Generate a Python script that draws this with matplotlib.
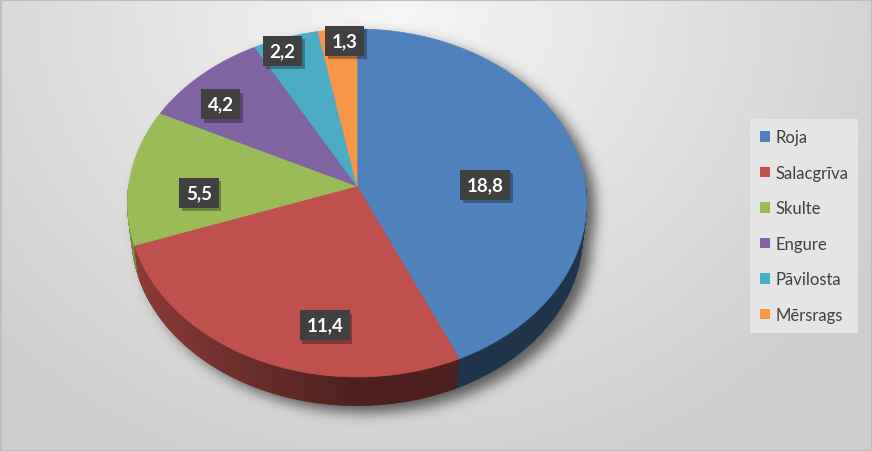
import matplotlib
matplotlib.use("Agg")
import matplotlib.pyplot as plt
import numpy as np
from matplotlib.patches import Patch, Rectangle
from matplotlib.collections import PolyCollection
import matplotlib.patheffects as pe

# data
places = ["Roja", "Salacgrīva", "Skulte", "Engure", "Pāvilosta", "Mērsrags"]
values = [18.8, 11.4, 5.5, 4.2, 2.2, 1.3]
value_labels = ["18,8", "11,4", "5,5", "4,2", "2,2", "1,3"]
colors = ["#4F81BD", "#C0504D", "#9BBB59", "#8064A2", "#4BACC6", "#F79646"]

# label placement inside the slices (radius fraction, angle nudge in degrees)
label_r = [0.56, 0.76, 0.69, 0.80, 0.92, 0.92]
label_nudge = [-11.4, 13.3, 6.6, 5.0, 2.6, -1.8]

plt.rcParams['font.family'] = ['Lato', 'DejaVu Sans']

W, H = 872, 452
# perspective of the tilted pie (pixels)
cx, cy = 357.0, 187.0
A, B, c = 228.4, 172.3, 0.0977
depth = 32.0
bottom_scale = 0.982


def proj(x, y, dz=0.0, s=1.0):
    d = 1 + c * y
    return cx + s * A * x / d, cy - s * B * y / d + dz


def shade(col, f):
    rgb = np.array(matplotlib.colors.to_rgb(col))
    return tuple(rgb * f)


fig = plt.figure(figsize=(W / 100, H / 100), dpi=100)
ax = fig.add_axes([0, 0, 1, 1])
ax.set_xlim(0, W)
ax.set_ylim(H, 0)
ax.axis('off')

# background gradient
gx, gy = np.meshgrid(np.arange(W) + 0.5, np.arange(H) + 0.5)
dist = np.sqrt(((gx - 400) / 560) ** 2 + ((gy - 10) / 500) ** 2)
bg = 0.965 - 0.16 * np.clip(dist, 0, 1)
ax.imshow(np.dstack([bg, bg, bg]), extent=(0, W, H, 0), zorder=0, interpolation='bilinear')
ax.add_patch(Rectangle((0.5, 0.5), W - 1, H - 1, fill=False, ec="#BDBDBD", lw=1.5, zorder=10))


def inside(dz, s):
    u = (gx - cx) / (A * s)
    v = (cy + dz - gy) / (B * s)
    yy = v / (1 - c * v)
    xx = u * (1 + c * yy)
    return (xx ** 2 + yy ** 2) <= 1


# soft shadow of the pie
mask = (inside(0, 1) | inside(depth, bottom_scale)).astype(float)
k = np.exp(-0.5 * (np.arange(-24, 25) / 6.5) ** 2)
k /= k.sum()
blur = np.apply_along_axis(lambda r: np.convolve(r, k, mode='same'), 1, mask)
blur = np.apply_along_axis(lambda r: np.convolve(r, k, mode='same'), 0, blur)
shadow = np.zeros((H, W, 4))
shadow[..., 3] = 0.58 * blur
shadow = np.roll(np.roll(shadow, 7, axis=0), 9, axis=1)
ax.imshow(shadow, extent=(0, W, H, 0), zorder=1, interpolation='bilinear')

# slice angles (clockwise from the top)
total = sum(values)
fracs = np.array(values) / total
starts = np.concatenate([[0], np.cumsum(fracs)[:-1]])
ends = np.cumsum(fracs)


def math_angle(frac):
    return np.radians(90 - 360 * frac)


# side wall
quads, qcols = [], []
th = np.linspace(np.pi, 2 * np.pi, 361)
for a0, a1 in zip(th[:-1], th[1:]):
    mid = 0.5 * (a0 + a1)
    f_cw = ((np.pi / 2 - mid) / (2 * np.pi)) % 1.0
    idx = min(int(np.searchsorted(ends, f_cw)), len(values) - 1)
    x0, y0 = proj(np.cos(a0), np.sin(a0))
    x1, y1 = proj(np.cos(a1), np.sin(a1))
    x2, y2 = proj(np.cos(a1), np.sin(a1), depth, bottom_scale)
    x3, y3 = proj(np.cos(a0), np.sin(a0), depth, bottom_scale)
    quads.append([(x0, y0), (x1, y1), (x2, y2), (x3, y3)])
    f = 0.40 + 0.36 * np.clip(-np.cos(mid), 0, 1)
    qcols.append(shade(colors[idx], f))
ax.add_collection(PolyCollection(quads, facecolors=qcols, edgecolors=qcols, linewidths=0.6, zorder=2))

# top surface
for s, e, col in zip(starts, ends, colors):
    t = np.linspace(math_angle(s), math_angle(e), 200)
    px, py = proj(np.cos(t), np.sin(t))
    px = np.concatenate([[cx], px])
    py = np.concatenate([[cy], py])
    ax.fill(px, py, color=col, lw=0.5, ec=col, zorder=3)

# value labels
for s, e, lab, r, nd in zip(starts, ends, value_labels, label_r, label_nudge):
    ang = 0.5 * (math_angle(s) + math_angle(e)) + np.radians(nd)
    lx, ly = proj(r * np.cos(ang), r * np.sin(ang))
    txt = ax.text(lx, ly, lab, ha='center', va='center', fontsize=13.5, fontweight='bold',
                  color='white', zorder=5,
                  bbox=dict(boxstyle='square,pad=0.35', fc='#404040', ec='none'))
    txt.get_bbox_patch().set_path_effects(
        [pe.SimplePatchShadow(offset=(2, -2.5), shadow_rgbFace='black', alpha=0.3), pe.Normal()])

# legend
handles = [Patch(facecolor=col, edgecolor='none') for col in colors]
leg = ax.legend(handles, places, loc='upper left', bbox_to_anchor=(750 / W, 1 - 120 / H),
                bbox_transform=fig.transFigure, frameon=True, fancybox=False, framealpha=1,
                facecolor='#E5E5E5', edgecolor='none', fontsize=12, labelspacing=1.17,
                handlelength=0.6, handleheight=0.6, handletextpad=0.28, borderpad=0.62,
                borderaxespad=0)
for t in leg.get_texts():
    t.set_color('#404040')
leg.set_zorder(6)

fig.savefig("out.png", dpi=100)
